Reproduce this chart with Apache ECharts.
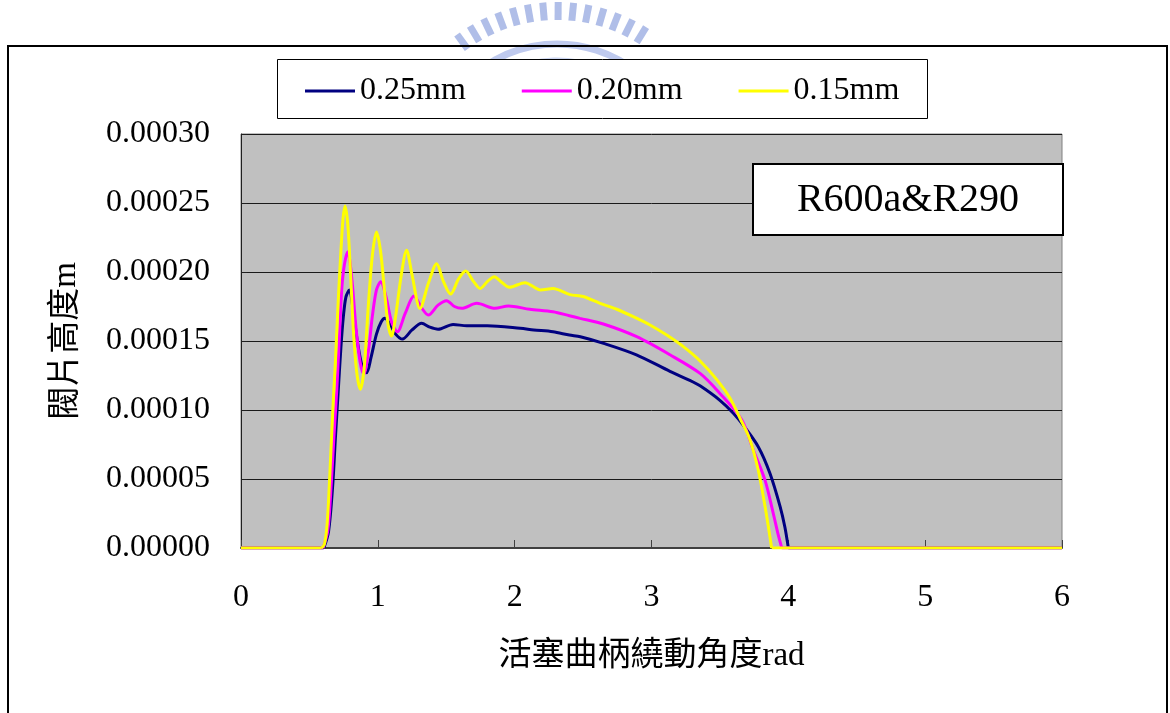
<!DOCTYPE html>
<html>
<head>
<meta charset="utf-8">
<script src="https://cdn.jsdelivr.net/npm/echarts@6/dist/echarts.min.js"></script>
<style>
  html, body { margin: 0; padding: 0; background: #ffffff; }
  #chart { width: 1170px; height: 713px; }
</style>
</head>
<body>
<div id="chart"></div>
<script>
// Valve lift (m) versus crank angle (rad) for three valve thicknesses.
const seriesNames = ['0.25mm', '0.20mm', '0.15mm'];
const seriesColors = ['#000080', '#FF00FF', '#FFFF00'];

const lift025 = [
  [0, 0], [0.605, 0], [0.64, 0.000012], [0.67, 0.000045], [0.69, 0.00008],
  [0.711, 0.0001145], [0.73, 0.000145], [0.748, 0.0001676], [0.767, 0.000182],
  [0.792, 0.000187], [0.82, 0.000172], [0.85, 0.00015], [0.885, 0.000132],
  [0.918, 0.000127], [0.95, 0.000138], [0.99, 0.000155], [1.025, 0.000164],
  [1.052, 0.0001665], [1.09, 0.000162], [1.13, 0.000155], [1.18, 0.0001514],
  [1.25, 0.000158], [1.32, 0.0001628], [1.38, 0.00016], [1.44, 0.0001585],
  [1.55, 0.000162], [1.65, 0.000161], [1.8, 0.000161], [2.04, 0.0001592],
  [2.14, 0.000158], [2.28, 0.0001567], [2.4, 0.0001543], [2.48, 0.0001531],
  [2.65, 0.0001483], [2.89, 0.00014], [3.135, 0.000128], [3.28, 0.0001215],
  [3.355, 0.0001175], [3.5, 0.000107], [3.6, 0.0000975], [3.67, 0.000089],
  [3.78, 0.0000734], [3.866, 0.000054], [3.94, 0.00003], [3.975, 0.000015],
  [4.0, 0], [6, 0]
];

const lift020 = [
  [0, 0], [0.6, 0], [0.635, 0.000013], [0.66, 0.000047], [0.68, 0.000082],
  [0.7, 0.0001145], [0.72, 0.000155], [0.736, 0.000187], [0.755, 0.000205],
  [0.78, 0.0002147], [0.81, 0.000195], [0.84, 0.00016], [0.87, 0.000135],
  [0.898, 0.000126], [0.93, 0.000142], [0.96, 0.000168], [0.99, 0.000187],
  [1.021, 0.000193], [1.06, 0.000182], [1.1, 0.000164], [1.143, 0.0001567],
  [1.2, 0.00017], [1.264, 0.0001826], [1.32, 0.000174], [1.369, 0.0001688],
  [1.44, 0.000176], [1.503, 0.0001792], [1.56, 0.000175], [1.613, 0.0001737],
  [1.723, 0.0001773], [1.856, 0.0001737], [1.954, 0.0001754], [2.11, 0.000173],
  [2.28, 0.0001712], [2.4, 0.0001683], [2.478, 0.0001664], [2.648, 0.0001623],
  [2.892, 0.0001531], [3.135, 0.00014], [3.355, 0.0001265], [3.5, 0.000112],
  [3.66, 0.0000928], [3.744, 0.000071], [3.83, 0.000049], [3.89, 0.000025],
  [3.925, 0.00001], [3.952, 0], [6, 0]
];

const lift015 = [
  [0, 0], [0.59, 0], [0.61, 0.000003], [0.63, 0.000018], [0.65, 0.000055],
  [0.67, 0.000098], [0.69, 0.000135], [0.71, 0.000178], [0.73, 0.000215],
  [0.745, 0.000238], [0.76, 0.0002478], [0.78, 0.000235], [0.8, 0.0002],
  [0.82, 0.00016], [0.845, 0.000128], [0.872, 0.000115], [0.9, 0.00013],
  [0.93, 0.000175], [0.96, 0.000212], [0.99, 0.000229], [1.02, 0.000215],
  [1.05, 0.000185], [1.075, 0.000162], [1.1, 0.0001536], [1.13, 0.000168],
  [1.17, 0.000197], [1.21, 0.0002158], [1.25, 0.000198], [1.308, 0.0001735],
  [1.37, 0.000192], [1.43, 0.000206], [1.48, 0.000193], [1.532, 0.000184],
  [1.59, 0.000195], [1.642, 0.0002007], [1.7, 0.000193], [1.747, 0.000188],
  [1.8, 0.000193], [1.851, 0.0001966], [1.9, 0.000193], [1.961, 0.0001889],
  [2.075, 0.0001923], [2.19, 0.000187], [2.28, 0.000188], [2.404, 0.0001836],
  [2.5, 0.0001822], [2.624, 0.0001773], [2.746, 0.000173], [2.867, 0.0001676],
  [2.989, 0.0001616], [3.111, 0.0001543], [3.233, 0.0001459], [3.355, 0.0001355],
  [3.477, 0.000122], [3.574, 0.0001085], [3.647, 0.000094], [3.72, 0.0000783],
  [3.78, 0.0000565], [3.83, 0.00003], [3.878, 0], [6, 0]
];

const yTickLabels = ['0.00000', '0.00005', '0.00010', '0.00015', '0.00020', '0.00025', '0.00030'];
const xTickLabels = ['0', '1', '2', '3', '4', '5', '6'];
const xTitle = '活塞曲柄繞動角度rad';
const yTitle = '閥片高度m';
const boxLabel = 'R600a&R290';

const FONT = "'Liberation Serif', 'Noto Sans CJK TC', serif";

// Split a lift curve into its lifted (curved) part and the closed-valve baseline
function splitCurve(d) {
  let a = 0;
  while (a + 1 < d.length && d[a + 1][1] === 0) a++;
  let b = d.length - 1;
  while (b - 1 > a && d[b - 1][1] === 0) b--;
  const lifted = d.slice(a, b + 1);
  const closed = d.slice(0, a + 1).concat([[d[a][0], '-']], d.slice(b));
  return { lifted, closed };
}

// Faint emblem printed behind the chart header
function emblem() {
  const els = [];
  const cx = 557, cy = 172;
  for (let a = -36; a <= 36; a += 5.2) {
    const r = a * Math.PI / 180;
    els.push({
      type: 'rect',
      x: cx + 150 * Math.sin(r), y: cy - 150 * Math.cos(r),
      originX: 0, originY: 0,
      rotation: -r,
      shape: { x: -3.5, y: -20, width: 7, height: 18 },
      style: { fill: '#b0bee8' },
      z: 1, silent: true
    });
  }
  els.push({
    type: 'arc', shape: { cx: cx, cy: cy, r: 128, startAngle: -Math.PI * 0.78, endAngle: -Math.PI * 0.22 },
    style: { stroke: '#bfcaee', lineWidth: 7, fill: null }, z: 1, silent: true
  });
  els.push({
    type: 'arc', shape: { cx: cx, cy: cy, r: 113, startAngle: -Math.PI * 0.76, endAngle: -Math.PI * 0.24 },
    style: { stroke: '#ccd6f2', lineWidth: 3, fill: null }, z: 1, silent: true
  });
  return els;
}

const chart = echarts.init(document.getElementById('chart'), null, { renderer: 'canvas' });

const curves = [lift025, lift020, lift015].map(splitCurve);
const lineSeries = [];
curves.forEach((c, i) => {
  lineSeries.push({
    name: seriesNames[i], type: 'line', data: c.lifted, smooth: 0.3,
    symbol: 'none', color: seriesColors[i],
    lineStyle: { color: seriesColors[i], width: 3 }, z: 3 + i
  });
});
curves.forEach((c, i) => {
  lineSeries.push({
    name: seriesNames[i], type: 'line', data: c.closed, smooth: false,
    symbol: 'none', color: seriesColors[i], connectNulls: false,
    lineStyle: { color: seriesColors[i], width: 3 }, z: 3 + i
  });
});

const option = {
  backgroundColor: '#ffffff',
  animation: false,
  textStyle: { fontFamily: FONT, color: '#000' },
  grid: {
    left: 241, top: 134, right: 108, bottom: 165,
    show: true, backgroundColor: '#C0C0C0', borderColor: '#808080', borderWidth: 1
  },
  legend: {
    data: seriesNames,
    left: 305, top: 75,
    padding: 0,
    itemGap: 56,
    itemWidth: 50, itemHeight: 3,
    icon: 'rect',
    textStyle: { fontFamily: FONT, fontSize: 32, color: '#000', lineHeight: 32 },
    z: 10
  },
  xAxis: {
    type: 'value', min: 0, max: 6, interval: 1,
    name: xTitle, nameLocation: 'middle', nameGap: 92,
    nameTextStyle: { fontFamily: FONT, fontSize: 33, color: '#000' },
    axisLine: { show: true, onZero: false, lineStyle: { color: '#404040', width: 2 } },
    axisTick: { show: true, inside: true, length: 8, lineStyle: { color: '#404040', width: 1 } },
    axisLabel: {
      margin: 34, fontFamily: FONT, fontSize: 32, color: '#000',
      formatter: v => xTickLabels[Math.round(v)]
    },
    splitLine: { show: false }
  },
  yAxis: {
    type: 'value', min: 0, max: 0.0003, interval: 0.00005,
    name: yTitle, nameLocation: 'middle', nameGap: 158, nameRotate: 90,
    nameTextStyle: { fontFamily: FONT, fontSize: 33, color: '#000' },
    axisLine: { show: true, lineStyle: { color: '#202020', width: 1 } },
    axisTick: { show: true, inside: true, length: 6, lineStyle: { color: '#202020' } },
    axisLabel: {
      margin: 31, fontFamily: FONT, fontSize: 32, color: '#000',
      formatter: v => yTickLabels[Math.round(v / 0.00005)]
    },
    splitLine: { show: true, lineStyle: { color: '#1a1a1a', width: 1 } }
  },
  series: lineSeries,
  graphic: [
    ...emblem(),
    // outer chart frame
    {
      type: 'rect', shape: { x: 8, y: 46, width: 1159, height: 720 },
      style: { fill: null, stroke: '#000', lineWidth: 2 }, z: 2, silent: true
    },
    // legend frame
    {
      type: 'rect', shape: { x: 277.5, y: 59.5, width: 650, height: 59 },
      style: { fill: '#ffffff', stroke: '#000', lineWidth: 1 }, z: 3, silent: true
    },
    // fluid pair label
    {
      type: 'rect', shape: { x: 753, y: 164, width: 310, height: 71 },
      style: { fill: '#ffffff', stroke: '#000', lineWidth: 2 }, z: 20, silent: true
    },
    {
      type: 'text', x: 908, y: 200,
      style: { text: boxLabel, font: "40px 'Liberation Serif', serif", fill: '#000', align: 'center', verticalAlign: 'middle' },
      z: 21, silent: true
    }
  ]
};

chart.setOption(option);
</script>
</body>
</html>
